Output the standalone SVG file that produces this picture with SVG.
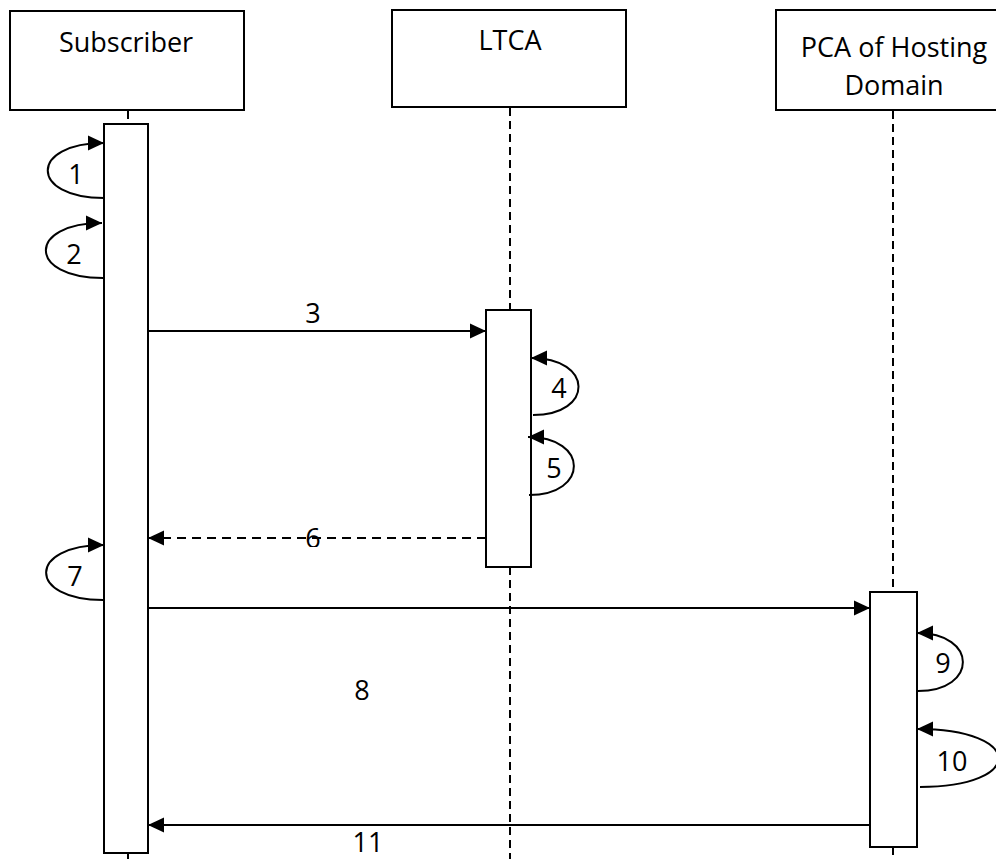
<svg xmlns="http://www.w3.org/2000/svg" width="996" height="859" viewBox="0 0 996 859">
<style>
.box{fill:#fff;stroke:#000;stroke-width:2}
.life{fill:none;stroke:#000;stroke-width:2;stroke-dasharray:8 5}
.msg{fill:none;stroke:#000;stroke-width:2}
.dash{stroke-dasharray:9 6}
text{font-family:"Open Sans","Liberation Sans",sans-serif;font-size:27px;fill:#000;text-anchor:middle}
</style>
<defs>
<marker id="ah" markerUnits="userSpaceOnUse" markerWidth="17" markerHeight="17" viewBox="0 0 17 17" refX="16" refY="8.5" orient="auto">
<path d="M0,1 L16,8.5 L0,16 Z" fill="#000"/>
</marker>
<clipPath id="c6"><rect x="280" y="500" width="60" height="47"/></clipPath>
</defs>
<g id="lifelines">
<line class="life" x1="128" y1="111" x2="128" y2="124"/>
<line class="life" x1="128" y1="853" x2="128" y2="859"/>
<line class="life" x1="510" y1="108" x2="510" y2="310"/>
<line class="life" x1="510" y1="567" x2="510" y2="859"/>
<line class="life" x1="893" y1="111" x2="893" y2="592"/>
<line class="life" x1="893" y1="847" x2="893" y2="859"/>
</g>
<g id="subscriber">
<rect class="box" x="10" y="11" width="234" height="99"/>
<text x="126" y="52">Subscriber</text>
<rect class="box" x="104" y="124" width="44" height="729"/>
</g>
<g id="ltca">
<rect class="box" x="392" y="10" width="234" height="97"/>
<text x="510" y="50">LTCA</text>
<rect class="box" x="486" y="310" width="45" height="257"/>
</g>
<g id="pca">
<rect class="box" x="776" y="10" width="230" height="100"/>
<text x="894" y="57">PCA of Hosting</text>
<text x="894" y="95">Domain</text>
<rect class="box" x="870" y="592" width="47" height="255"/>
</g>
<g id="connectors">
<path class="msg" d="M104,198 C29,198 29,143 104,143" marker-end="url(#ah)"/>
<path class="msg" d="M103,278 C27,278 27,223 102,223" marker-end="url(#ah)"/>
<line class="msg" x1="148" y1="331" x2="486" y2="331" marker-end="url(#ah)"/>
<path class="msg" d="M533,415 C594,415 594,358 531,358" marker-end="url(#ah)"/>
<path class="msg" d="M529,495 C589,495 589,437 528,437" marker-end="url(#ah)"/>
<line class="msg dash" x1="486" y1="538" x2="148" y2="538" marker-end="url(#ah)"/>
<path class="msg" d="M103,600 C27,600 27,545 104,545" marker-end="url(#ah)"/>
<line class="msg" x1="148" y1="608" x2="870" y2="608" marker-end="url(#ah)"/>
<path class="msg" d="M918,691 C978,691 978,633 917,633" marker-end="url(#ah)"/>
<path class="msg" d="M920,787 C1025,787 1025,729 917,729" marker-end="url(#ah)"/>
<line class="msg" x1="870" y1="825" x2="148" y2="825" marker-end="url(#ah)"/>
</g>
<g id="labels">
<text x="76" y="184">1</text>
<text x="74" y="264">2</text>
<text x="313" y="323">3</text>
<text x="559" y="398">4</text>
<text x="554" y="478">5</text>
<text x="313" y="548" clip-path="url(#c6)">6</text>
<text x="75" y="586">7</text>
<text x="362" y="700">8</text>
<text x="943" y="673">9</text>
<text x="952" y="771">10</text>
<text x="368" y="852">11</text>
</g>
</svg>
